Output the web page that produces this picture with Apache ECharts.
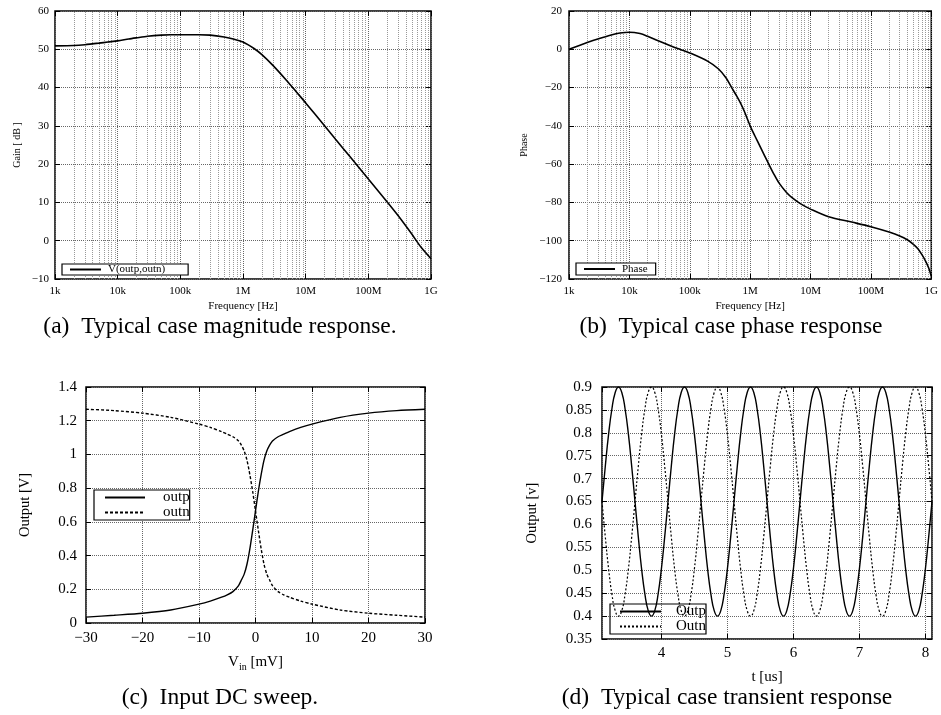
<!DOCTYPE html>
<html>
<head>
<meta charset="utf-8">
<script src="https://cdn.jsdelivr.net/npm/echarts@6/dist/echarts.min.js"></script>
<style>
  html, body { margin: 0; padding: 0; background: #fff; }
  #chart { width: 941px; height: 715px; }
</style>
</head>
<body>
<div id="chart"></div>
<script>
// ---- (a) magnitude response ----
const freqGain = [1e3, 2e3, 3e3, 5e3, 7e3, 1e4, 1.5e4, 2e4, 3e4, 5e4, 7e4, 1e5, 2e5, 3e5, 5e5, 7e5,
  1e6, 1.5e6, 2e6, 3e6, 5e6, 7e6, 1e7, 2e7, 3e7, 5e7, 1e8, 2e8, 3e8, 5e8, 7e8, 1e9];
const gainDb = [50.9, 51.0, 51.2, 51.6, 51.9, 52.2, 52.7, 53.0, 53.4, 53.7, 53.8, 53.8, 53.8, 53.7, 53.2, 52.7,
  51.9, 50.2, 48.6, 45.8, 41.8, 39.0, 36.0, 30.0, 26.5, 22.1, 16.1, 10.1, 6.5, 1.6, -1.8, -4.7];

// ---- (b) phase response ----
const freqPhase = [1e3, 2e3, 3e3, 5e3, 7e3, 1e4, 1.5e4, 2e4, 3e4, 5e4, 7e4, 1e5, 2e5, 3e5, 4e5, 5e5, 6e5, 7e5, 8e5,
  1e6, 1.2e6, 1.5e6, 2e6, 2.5e6, 3e6, 4e6, 5e6, 7e6, 1e7, 2e7, 5e7, 1e8, 2e8, 3e8, 4e8, 5e8, 6e8, 7e8, 8e8, 9e8, 1e9];
const phaseDeg = [0, 3.5, 5.4, 7.5, 8.5, 8.9, 8.2, 6.8, 4.4, 1.6, -0.1, -1.9, -6.3, -10.3, -15, -20.3, -24.5, -28.4, -32.4,
  -40, -45.3, -51.5, -59.5, -65.5, -69.8, -74.8, -77.6, -80.9, -83.5, -87.5, -90.4, -92.7, -95.5, -97.5, -99.5, -101.8, -104.2, -107.3, -110.5, -114, -118.5];

const freqTickLabels = ['1k', '10k', '100k', '1M', '10M', '100M', '1G'];

// ---- (c) input DC sweep ----
const vinMv = [-30, -25, -20, -15, -10, -8, -6, -5, -4, -3, -2.5, -2, -1.5, -1, -0.5, 0,
  0.5, 1, 1.5, 2, 2.5, 3, 4, 5, 6, 8, 10, 15, 20, 25, 30];
const dcOutp = [0.035, 0.046, 0.058, 0.077, 0.112, 0.130, 0.153, 0.167, 0.186, 0.222, 0.255, 0.29, 0.35, 0.44, 0.55, 0.665,
  0.78, 0.88, 0.965, 1.02, 1.055, 1.08, 1.105, 1.12, 1.135, 1.16, 1.18, 1.22, 1.245, 1.26, 1.268];
const dcOutn = [1.268, 1.26, 1.245, 1.22, 1.18, 1.16, 1.135, 1.12, 1.105, 1.08, 1.055, 1.02, 0.965, 0.88, 0.78, 0.665,
  0.55, 0.44, 0.35, 0.29, 0.255, 0.222, 0.186, 0.167, 0.153, 0.130, 0.112, 0.077, 0.058, 0.046, 0.035];

// ---- (d) transient response ----
const timeUs = [3.10, 3.15, 3.20, 3.25, 3.30, 3.35, 3.40, 3.45, 3.50, 3.55, 3.60, 3.65, 3.70, 3.75, 3.80, 3.85, 3.90, 3.95,
  4.00, 4.05, 4.10, 4.15, 4.20, 4.25, 4.30, 4.35, 4.40, 4.45, 4.50, 4.55, 4.60, 4.65, 4.70, 4.75, 4.80, 4.85, 4.90, 4.95,
  5.00, 5.05, 5.10, 5.15, 5.20, 5.25, 5.30, 5.35, 5.40, 5.45, 5.50, 5.55, 5.60, 5.65, 5.70, 5.75, 5.80, 5.85, 5.90, 5.95,
  6.00, 6.05, 6.10, 6.15, 6.20, 6.25, 6.30, 6.35, 6.40, 6.45, 6.50, 6.55, 6.60, 6.65, 6.70, 6.75, 6.80, 6.85, 6.90, 6.95,
  7.00, 7.05, 7.10, 7.15, 7.20, 7.25, 7.30, 7.35, 7.40, 7.45, 7.50, 7.55, 7.60, 7.65, 7.70, 7.75, 7.80, 7.85, 7.90, 7.95,
  8.00, 8.05, 8.10];
const tranOutp = [
  0.65, 0.727, 0.797, 0.852, 0.888, 0.9, 0.888, 0.852, 0.797, 0.727, 0.65, 0.573, 0.503, 0.448, 0.412, 0.4, 0.412, 0.448, 0.503, 0.573,
  0.65, 0.727, 0.797, 0.852, 0.888, 0.9, 0.888, 0.852, 0.797, 0.727, 0.65, 0.573, 0.503, 0.448, 0.412, 0.4, 0.412, 0.448, 0.503, 0.573,
  0.65, 0.727, 0.797, 0.852, 0.888, 0.9, 0.888, 0.852, 0.797, 0.727, 0.65, 0.573, 0.503, 0.448, 0.412, 0.4, 0.412, 0.448, 0.503, 0.573,
  0.65, 0.727, 0.797, 0.852, 0.888, 0.9, 0.888, 0.852, 0.797, 0.727, 0.65, 0.573, 0.503, 0.448, 0.412, 0.4, 0.412, 0.448, 0.503, 0.573,
  0.65, 0.727, 0.797, 0.852, 0.888, 0.9, 0.888, 0.852, 0.797, 0.727, 0.65, 0.573, 0.503, 0.448, 0.412, 0.4, 0.412, 0.448, 0.503, 0.573,
  0.65];
const tranOutn = [
  0.65, 0.573, 0.503, 0.448, 0.412, 0.4, 0.412, 0.448, 0.503, 0.573, 0.65, 0.727, 0.797, 0.852, 0.888, 0.9, 0.888, 0.852, 0.797, 0.727,
  0.65, 0.573, 0.503, 0.448, 0.412, 0.4, 0.412, 0.448, 0.503, 0.573, 0.65, 0.727, 0.797, 0.852, 0.888, 0.9, 0.888, 0.852, 0.797, 0.727,
  0.65, 0.573, 0.503, 0.448, 0.412, 0.4, 0.412, 0.448, 0.503, 0.573, 0.65, 0.727, 0.797, 0.852, 0.888, 0.9, 0.888, 0.852, 0.797, 0.727,
  0.65, 0.573, 0.503, 0.448, 0.412, 0.4, 0.412, 0.448, 0.503, 0.573, 0.65, 0.727, 0.797, 0.852, 0.888, 0.9, 0.888, 0.852, 0.797, 0.727,
  0.65, 0.573, 0.503, 0.448, 0.412, 0.4, 0.412, 0.448, 0.503, 0.573, 0.65, 0.727, 0.797, 0.852, 0.888, 0.9, 0.888, 0.852, 0.797, 0.727,
  0.65];

const captions = [
  '(a)  Typical case magnitude response.',
  '(b)  Typical case phase response',
  '(c)  Input DC sweep.',
  '(d)  Typical case transient response'
];

// ---------------------------------------------------------------
const FONT = '"Liberation Serif", "Times New Roman", serif';
const zip = (xs, ys) => xs.map((x, i) => [x, ys[i]]);
const minus = v => String(v).replace('-', '\u2212');
const freqLabel = v => freqTickLabels[Math.round(Math.log10(v)) - 3] || '';

// gridlines at 2..9 within each decade of the frequency axes
const minorFreqs = [];
for (let e = 3; e < 9; e++) {
  for (let m = 2; m <= 9; m++) minorFreqs.push(m * Math.pow(10, e));
}

const majorGrid = { show: true, lineStyle: { color: '#666', type: 'dotted', width: 1 } };
const frameGrid = { show: true, borderColor: '#000', borderWidth: 1.5, backgroundColor: 'transparent' };
const noLine = { show: false, onZero: false };
const tick = { show: true, inside: true, length: 5, lineStyle: { color: '#000' } };

const grids = [
  Object.assign({ left: 55, top: 11, width: 376, height: 268 }, frameGrid),
  Object.assign({ left: 569, top: 11, width: 368, height: 268 }, frameGrid),
  Object.assign({ left: 86, top: 387, width: 339, height: 236 }, frameGrid),
  Object.assign({ left: 602, top: 387, width: 330, height: 252 }, frameGrid)
];

function mainX(gi, cfg, fs, margin) {
  return Object.assign({
    gridIndex: gi,
    position: 'bottom',
    nameLocation: 'middle',
    nameTextStyle: { fontFamily: FONT, fontSize: fs, color: '#000' },
    axisLine: noLine,
    axisTick: tick,
    axisLabel: { fontFamily: FONT, fontSize: fs, color: '#000', margin: margin },
    splitLine: majorGrid
  }, cfg);
}
function mainY(gi, cfg, fs, nfs, margin) {
  return Object.assign({
    gridIndex: gi,
    position: 'left',
    nameLocation: 'middle',
    nameTextStyle: { fontFamily: FONT, fontSize: nfs, color: '#000' },
    axisLine: noLine,
    axisTick: tick,
    axisLabel: { fontFamily: FONT, fontSize: fs, color: '#000', margin: margin, formatter: minus },
    splitLine: majorGrid
  }, cfg);
}
function mirror(gi, pos, cfg) {
  return Object.assign({
    gridIndex: gi,
    position: pos,
    axisLine: noLine,
    axisTick: tick,
    axisLabel: { show: false },
    splitLine: { show: false }
  }, cfg);
}

const logCfg = { type: 'log', logBase: 10, min: 1e3, max: 1e9 };
const tCfg = { type: 'value', min: 3.1, max: 8.1, splitNumber: 5 };
const freqAxisLabel = { fontFamily: FONT, fontSize: 11, color: '#000', margin: 7, formatter: freqLabel };

const xAxes = [
  mainX(0, Object.assign({}, logCfg, { name: 'Frequency [Hz]', nameGap: 22, axisLabel: freqAxisLabel }), 11, 7),
  mainX(1, Object.assign({}, logCfg, { name: 'Frequency [Hz]', nameGap: 22, axisLabel: freqAxisLabel }), 11, 7),
  mainX(2, { type: 'value', min: -30, max: 30, interval: 10, nameGap: 30,
    name: '{v|V}{s|in}{v| [mV]}',
    nameTextStyle: { fontFamily: FONT, color: '#000',
      rich: { v: { fontFamily: FONT, fontSize: 15, color: '#000' },
              s: { fontFamily: FONT, fontSize: 10, color: '#000', padding: [9, 0, 0, 0] } } },
    axisLabel: { fontFamily: FONT, fontSize: 15, color: '#000', margin: 8, formatter: minus } }, 15, 8),
  mainX(3, Object.assign({}, tCfg, { name: 't [us]', nameGap: 31,
    axisLabel: { fontFamily: FONT, fontSize: 15, color: '#000', margin: 7, showMinLabel: false, showMaxLabel: false } }), 15, 7),
  mirror(0, 'top', Object.assign({}, logCfg)),
  mirror(1, 'top', Object.assign({}, logCfg)),
  mirror(2, 'top', { type: 'value', min: -30, max: 30, interval: 10 }),
  mirror(3, 'top', Object.assign({}, tCfg))
];

const yAxes = [
  mainY(0, { type: 'value', min: -10, max: 60, interval: 10, name: 'Gain [ dB ]', nameGap: 33 }, 11, 10, 6),
  mainY(1, { type: 'value', min: -120, max: 20, interval: 20, name: 'Phase', nameGap: 40 }, 11, 10, 7),
  mainY(2, { type: 'value', min: 0, max: 1.4, interval: 0.2, name: 'Output [V]', nameGap: 53 }, 15, 14.5, 9),
  mainY(3, { type: 'value', min: 0.35, max: 0.9, interval: 0.05, name: 'Output [v]', nameGap: 62 }, 15, 14.5, 10),
  mirror(0, 'right', { type: 'value', min: -10, max: 60, interval: 10 }),
  mirror(1, 'right', { type: 'value', min: -120, max: 20, interval: 20 }),
  mirror(2, 'right', { type: 'value', min: 0, max: 1.4, interval: 0.2 }),
  mirror(3, 'right', { type: 'value', min: 0.35, max: 0.9, interval: 0.05 })
];

const minorMarks = {
  silent: true,
  symbol: 'none',
  z: 1,
  label: { show: false },
  emphasis: { disabled: true },
  animation: false,
  lineStyle: { color: '#999', type: 'dotted', width: 1 },
  data: minorFreqs.map(f => ({ xAxis: f }))
};

const solid = w => ({ color: '#000', width: w, type: 'solid' });
const dashed = (w, d) => ({ color: '#000', width: w, type: d });

const series = [
  { name: 'V(outp,outn)', type: 'line', xAxisIndex: 0, yAxisIndex: 0, data: zip(freqGain, gainDb),
    symbol: 'none', smooth: 0.25, lineStyle: solid(1.6), itemStyle: { color: '#000' },
    markLine: minorMarks, z: 3 },
  { name: 'Phase', type: 'line', xAxisIndex: 1, yAxisIndex: 1, data: zip(freqPhase, phaseDeg),
    symbol: 'none', smooth: 0.3, lineStyle: solid(1.6), itemStyle: { color: '#000' },
    markLine: minorMarks, z: 3 },
  { name: 'outp', type: 'line', xAxisIndex: 2, yAxisIndex: 2, data: zip(vinMv, dcOutp),
    symbol: 'none', smooth: 0.25, lineStyle: solid(1.4), itemStyle: { color: '#000' }, z: 3 },
  { name: 'outn', type: 'line', xAxisIndex: 2, yAxisIndex: 2, data: zip(vinMv, dcOutn),
    symbol: 'none', smooth: 0.25, lineStyle: dashed(1.4, [3, 2]), itemStyle: { color: '#000' }, z: 3 },
  { name: 'Outp', type: 'line', xAxisIndex: 3, yAxisIndex: 3, data: zip(timeUs, tranOutp),
    symbol: 'none', smooth: 0.5, lineStyle: solid(1.4), itemStyle: { color: '#000' }, z: 3 },
  { name: 'Outn', type: 'line', xAxisIndex: 3, yAxisIndex: 3, data: zip(timeUs, tranOutn),
    symbol: 'none', smooth: 0.5, lineStyle: dashed(1.2, [2, 2]), itemStyle: { color: '#000' }, z: 3 }
];

function legendBox(names, left, top, fs, iw, ih, pad, textGap, bg) {
  return {
    data: names, left: left, top: top, orient: 'vertical',
    itemWidth: iw, itemHeight: ih, itemGap: 0,
    padding: pad, borderColor: '#000', borderWidth: 1.2, borderRadius: 0,
    backgroundColor: bg, selectedMode: false,
    // keep only the line sample in each key
    itemStyle: { opacity: 0, color: 'transparent', borderWidth: 0 },
    textStyle: { fontFamily: FONT, fontSize: fs, color: '#000', padding: [0, 0, 0, textGap], lineHeight: ih }
  };
}

const legends = [
  legendBox(['V(outp,outn)'], 62, 264, 11, 31, 11, [0, 23, 0, 7], 2, '#fff'),
  legendBox(['Phase'], 576, 263, 11, 31, 12, [0, 8, 0, 7], 2, '#fff'),
  legendBox(['outp', 'outn'], 94, 490, 15, 40, 15, [0, 0, 0, 10], 13, '#fff'),
  legendBox(['Outp', 'Outn'], 610, 604, 15, 41, 15, [0, 0, 0, 9], 10, 'transparent')
];

const capX = [220, 731, 220, 727];
const capY = [327, 327, 698, 698];
const graphic = captions.map((c, i) => ({
  type: 'text', x: capX[i], y: capY[i], silent: true,
  style: { text: c, fontFamily: FONT, fontSize: 23.5, fill: '#000',
           align: 'center', verticalAlign: 'middle', textAlign: 'center', textVerticalAlign: 'middle' }
}));

const chart = echarts.init(document.getElementById('chart'), null, { renderer: 'canvas' });
chart.setOption({
  animation: false,
  backgroundColor: '#fff',
  textStyle: { fontFamily: FONT },
  grid: grids,
  xAxis: xAxes,
  yAxis: yAxes,
  legend: legends,
  series: series,
  graphic: graphic
});
</script>
</body>
</html>
